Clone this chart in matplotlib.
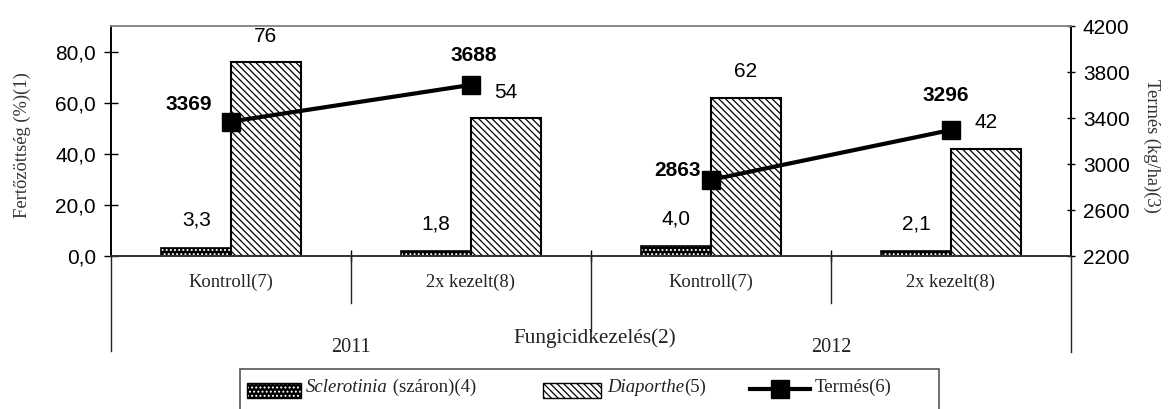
import matplotlib
matplotlib.use('Agg')
import matplotlib.pyplot as plt
import matplotlib.transforms as mtransforms
from matplotlib.patches import Rectangle
from matplotlib.lines import Line2D
import numpy as np

# ---- data ----
treatments = ['Kontroll(7)', '2x kezelt(8)', 'Kontroll(7)', '2x kezelt(8)']
years = ['2011', '2012']
sclerotinia = [3.3, 1.8, 4.0, 2.1]
diaporthe = [76, 54, 62, 42]
yield_kg = [3369, 3688, 2863, 3296]
left_ticks = [0, 20, 40, 60, 80]
left_tick_labels = ['0,0', '20,0', '40,0', '60,0', '80,0']
right_ticks = [2200, 2600, 3000, 3400, 3800, 4200]

# ---- styles ----
SANS = 'Liberation Sans'
SERIF = 'Liberation Serif'
TXT = '#222222'
W, H = 1172, 409
plt.rcParams['hatch.linewidth'] = 0.9

fig = plt.figure(figsize=(W / 100, H / 100), dpi=100)


def fx(px):
    return px / W


def fy(py):
    return 1 - py / H


ax = fig.add_axes([fx(111), fy(256), fx(1071) - fx(111), fy(26) - fy(256)])
x = np.arange(len(treatments))
bw = 0.29

# Sclerotinia bars: black with white dots
ax.bar(x - bw / 2, sclerotinia, bw, facecolor='black', edgecolor='white',
       hatch='....', linewidth=0)
ax.bar(x - bw / 2, sclerotinia, bw, fill=False, edgecolor='black', linewidth=1.2)
# Diaporthe bars: white with diagonal hatch
ax.bar(x + bw / 2, diaporthe, bw, facecolor='white', edgecolor='black',
       hatch='\\\\\\\\\\', linewidth=1.5)

ax.set_xlim(-0.5, len(treatments) - 0.5)
ax.set_ylim(0, 90)
ax.set_yticks(left_ticks)
ax.set_yticklabels(left_tick_labels, fontsize=15, family=SANS)
ax.tick_params(axis='y', direction='inout', length=9.4, width=1, pad=6.2, right=False)
ax.set_xticks([])
ax.set_xticks([0.5, 1.5, 2.5], minor=True)
ax.tick_params(axis='x', which='minor', direction='inout', length=8.6, width=1, bottom=True)

for xi, v in zip(x, sclerotinia):
    ax.annotate(f'{v:.1f}'.replace('.', ','), (xi - bw / 2, v), xytext=(0, 19.5),
                textcoords='offset points', ha='center', va='center',
                fontsize=15, family=SANS)
for xi, v in zip(x, diaporthe):
    ax.annotate(f'{v}', (xi + bw / 2, v), xytext=(0, 18.5),
                textcoords='offset points', ha='center', va='center',
                fontsize=15, family=SANS)

# Yield line on secondary axis
ax2 = ax.twinx()
ax2.set_ylim(2200, 4200)
ax2.set_yticks(right_ticks)
ax2.set_yticklabels([str(t) for t in right_ticks], fontsize=15, family=SANS)
ax2.tick_params(axis='y', direction='inout', length=6, width=1, pad=5.5)
for i in range(0, len(yield_kg), 2):
    ax2.plot(x[i:i + 2], yield_kg[i:i + 2], color='black', lw=3,
             marker='s', ms=13.5, mfc='black', mec='black')

yield_label_offsets = [(-13.7, 12.2), (2.2, 20.9), (-7.2, 6.5), (-3.6, 24.5)]
yield_label_ha = ['right', 'center', 'right', 'center']
for xi, v, off, ha in zip(x, yield_kg, yield_label_offsets, yield_label_ha):
    ax2.annotate(f'{v}', (xi, v), xytext=off, textcoords='offset points',
                 ha=ha, va='center', fontsize=15, fontweight='bold', family=SANS)

for a in (ax, ax2):
    a.spines['top'].set_color('#8a8a8a')
    a.spines['top'].set_linewidth(1.2)
    a.spines['left'].set_color('black')
    a.spines['left'].set_linewidth(1.2)
    a.spines['right'].set_color('black')
    a.spines['right'].set_linewidth(1.2)
    a.spines['bottom'].set_color('#333333')
    a.spines['bottom'].set_linewidth(1.2)

# ---- multi-level category axis below ----
bt = mtransforms.blended_transform_factory(ax.transData, fig.transFigure)
for xi, lab in zip(x, treatments):
    fig.text(xi, fy(282), lab, transform=bt, ha='center', va='center',
             fontsize=13.3, family=SERIF, color=TXT)
for xb in [0.5, 2.5]:
    fig.add_artist(Line2D([xb, xb], [fy(256), fy(303)], transform=bt,
                          color='#222222', lw=1))
for xb, ybot in [(-0.5, 351), (1.5, 331), (3.5, 352)]:
    fig.add_artist(Line2D([xb, xb], [fy(256), fy(ybot)], transform=bt,
                          color='#222222', lw=1))
for k, yr in enumerate(years):
    fig.text(2 * k + 0.5, fy(347), yr, transform=bt, ha='center', va='center',
             fontsize=14.5, family=SERIF, color=TXT)

fig.text(fx(595), fy(338), 'Fungicidkezelés(2)', ha='center', va='center',
         fontsize=15.3, family=SERIF, color=TXT)

# axis titles
fig.text(fx(22), fy(145), 'Fertőzöttség (%)(1)', rotation=90, ha='center', va='center',
         fontsize=13.3, family=SERIF, color='#333333')
fig.text(fx(1152), fy(146), 'Termés (kg/ha)(3)', rotation=-90, ha='center', va='center',
         fontsize=13.3, family=SERIF, color='#333333')

# ---- legend ----
fig.add_artist(Rectangle((fx(240), fy(420)), fx(939) - fx(240), (420 - 369) / H,
                         transform=fig.transFigure, fill=False, edgecolor='#555555',
                         lw=1.2, clip_on=False))
fig.add_artist(Rectangle((fx(247), fy(398)), fx(301) - fx(247), 15 / H,
                         transform=fig.transFigure, facecolor='black',
                         edgecolor='white', hatch='....', lw=0))
fig.add_artist(Rectangle((fx(247), fy(398)), fx(301) - fx(247), 15 / H,
                         transform=fig.transFigure, fill=False, edgecolor='black', lw=1))
fig.add_artist(Rectangle((fx(543), fy(398)), fx(601) - fx(543), 15 / H,
                         transform=fig.transFigure, facecolor='white',
                         edgecolor='black', hatch='\\\\\\\\\\', lw=1))
fig.add_artist(Line2D([fx(750), fx(810)], [fy(389), fy(389)], color='black', lw=3))
fig.add_artist(Line2D([fx(780)], [fy(389)], color='black', marker='s', ms=13.5))

LEG_FS = 13.5
t1 = fig.text(fx(306), fy(392), 'Sclerotinia', ha='left', va='baseline',
              fontsize=LEG_FS, family=SERIF, style='italic', color=TXT)
t2 = fig.text(fx(607), fy(392), 'Diaporthe', ha='left', va='baseline',
              fontsize=LEG_FS, family=SERIF, style='italic', color=TXT)
fig.text(fx(815), fy(392), 'Termés(6)', ha='left', va='baseline',
         fontsize=LEG_FS, family=SERIF, color=TXT)

# place the regular-font suffixes right after the italic parts
fig.canvas.draw()
r = fig.canvas.get_renderer()
e1 = t1.get_window_extent(r)
fig.text(e1.x1 / W, fy(392), ' (száron)(4)', ha='left', va='baseline',
         fontsize=LEG_FS, family=SERIF, color=TXT)
e2 = t2.get_window_extent(r)
fig.text(e2.x1 / W, fy(392), '(5)', ha='left', va='baseline', fontsize=LEG_FS,
         family=SERIF, color=TXT)

fig.savefig('out.png', dpi=100)
